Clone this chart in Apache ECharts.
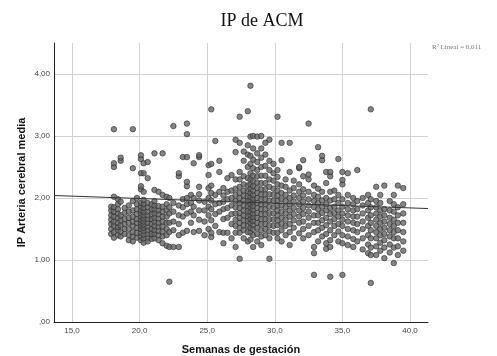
<!DOCTYPE html>
<html>
<head>
<meta charset="utf-8">
<script src="https://cdn.jsdelivr.net/npm/echarts@6/dist/echarts.min.js"></script>
<style>
  html, body { margin: 0; padding: 0; background: #fff; }
  #chart { width: 497px; height: 356px; }
</style>
</head>
<body>
<div id="chart"></div>
<script>
// semanas de gestación (columnas) y valores de IP
const semanasColumna = [
  17.9, 18.1, 18.4, 18.6, 18.9,
  19.2, 19.5, 19.8,
  20.1, 20.3, 20.6, 20.9,
  21.1, 21.4, 21.7, 22.0,
  22.2, 22.5, 22.9,
  23.2, 23.5, 23.8,
  24.0, 24.4, 24.8,
  25.1, 25.3, 25.6, 25.9,
  26.2, 26.5, 26.8,
  27.1, 27.4, 27.7, 28.0,
  28.2, 28.4, 28.7, 29.0,
  29.3, 29.6, 29.9,
  30.2, 30.5, 30.8,
  31.1, 31.4, 31.8,
  32.1, 32.5, 32.9,
  33.2, 33.5, 33.8,
  34.1, 34.4, 34.7,
  35.0, 35.4, 35.8,
  36.1, 36.5, 36.9,
  37.1, 37.5, 37.8,
  38.1, 38.5, 38.8,
  39.1, 39.5
]

const ipColumna = [
  [1.42, 1.50, 1.58, 1.65, 1.72, 1.80, 1.86],
  [1.36, 1.45, 1.55, 1.62, 1.70, 1.78, 1.85, 2.02, 2.50, 2.56, 3.11],
  [1.40, 1.48, 1.53, 1.60, 1.68, 1.75, 1.82, 1.90, 1.98],
  [1.38, 1.46, 1.56, 1.64, 1.72, 1.94, 2.60, 2.65],
  [1.42, 1.50, 1.58, 1.66, 1.76, 1.84],

  [1.32, 1.40, 1.50, 1.60, 1.68, 1.78, 1.88],
  [1.30, 1.38, 1.45, 1.55, 1.62, 1.70, 1.80, 1.95, 2.48, 3.11],
  [1.36, 1.44, 1.52, 1.60, 1.66, 1.74, 1.82, 1.90, 2.00],

  [1.32, 1.38, 1.44, 1.50, 1.55, 1.60, 1.65, 1.70, 1.75, 1.80, 1.86, 1.92, 2.14, 2.19, 2.40, 2.63, 2.69],
  [1.28, 1.35, 1.41, 1.47, 1.52, 1.57, 1.62, 1.67, 1.72, 1.78, 1.84, 1.90, 1.97, 2.10, 2.40, 2.56],
  [1.30, 1.36, 1.42, 1.48, 1.54, 1.60, 1.66, 1.72, 1.78, 1.85, 1.92, 2.32, 2.58],
  [1.34, 1.42, 1.50, 1.58, 1.66, 1.74, 1.82, 1.90],

  [1.35, 1.42, 1.48, 1.55, 1.62, 1.68, 1.75, 1.82, 1.88, 1.95, 2.13, 2.72],
  [1.32, 1.40, 1.47, 1.54, 1.60, 1.67, 1.74, 1.80, 1.87, 2.10],
  [1.27, 1.38, 1.46, 1.54, 1.62, 1.70, 1.78, 1.86, 2.05, 2.72],
  [1.23, 1.40, 1.50, 1.60, 1.70, 1.80, 1.90, 2.02],

  [0.65, 1.21, 1.45, 1.60, 1.75, 1.85, 2.00],
  [1.21, 1.48, 1.62, 1.78, 1.92, 3.16],
  [1.21, 1.40, 1.58, 1.72, 1.88, 2.35, 2.40],

  [1.44, 1.70, 1.85, 1.98, 2.66],
  [1.47, 1.75, 1.90, 2.00, 2.19, 2.26, 2.66, 3.03, 3.20],
  [1.60, 1.78, 1.92, 2.05],

  [1.45, 1.72, 1.86, 2.00, 2.56],
  [1.47, 1.65, 1.80, 1.96, 2.06, 2.18, 2.66, 2.69],
  [1.40, 1.62, 1.80, 1.94],

  [1.50, 1.72, 1.86, 2.00, 2.16, 2.37, 2.53],
  [1.37, 1.44, 1.64, 1.82, 1.96, 2.08, 2.20, 2.55, 3.43],
  [1.55, 1.74, 1.90, 2.05, 2.92],
  [1.45, 1.78, 1.92, 2.10, 2.42, 2.60],

  [1.27, 1.44, 1.66, 1.82, 1.94, 2.04, 2.16],
  [1.44, 1.68, 1.84, 1.98, 2.10, 2.32],
  [1.35, 1.58, 1.74, 1.88, 2.00, 2.12, 2.37],

  [1.21, 1.44, 1.55, 1.65, 1.75, 1.85, 1.95, 2.05, 2.15, 2.30, 2.74, 2.94],
  [1.02, 1.44, 1.52, 1.60, 1.68, 1.76, 1.84, 1.92, 2.00, 2.08, 2.18, 2.30, 2.42, 2.89, 3.31],
  [1.35, 1.48, 1.56, 1.64, 1.72, 1.80, 1.88, 1.96, 2.04, 2.12, 2.22, 2.35, 2.60, 2.75],
  [1.30, 1.45, 1.55, 1.63, 1.71, 1.79, 1.87, 1.95, 2.03, 2.11, 2.20, 2.32, 2.50, 2.70, 2.85, 3.40],

  [1.33, 1.44, 1.52, 1.60, 1.66, 1.72, 1.78, 1.84, 1.90, 1.96, 2.02, 2.08, 2.15, 2.22, 2.30, 2.40, 2.55, 2.68, 2.99, 3.81],
  [1.21, 1.40, 1.50, 1.57, 1.63, 1.69, 1.75, 1.81, 1.87, 1.93, 1.99, 2.05, 2.12, 2.19, 2.27, 2.36, 2.48, 2.62, 2.80, 3.00],
  [1.30, 1.42, 1.52, 1.60, 1.68, 1.76, 1.84, 1.92, 2.00, 2.08, 2.16, 2.25, 2.35, 2.45, 2.58, 2.72, 2.99],
  [1.24, 1.38, 1.48, 1.58, 1.66, 1.74, 1.82, 1.90, 1.98, 2.06, 2.14, 2.24, 2.36, 2.50, 2.65, 2.80, 3.00],

  [1.40, 1.50, 1.58, 1.66, 1.74, 1.82, 1.90, 1.98, 2.06, 2.14, 2.24, 2.36, 2.52, 2.70, 2.89],
  [1.02, 1.35, 1.46, 1.56, 1.66, 1.76, 1.86, 1.96, 2.06, 2.18, 2.30, 2.45, 2.60, 2.94],
  [1.44, 1.55, 1.65, 1.75, 1.85, 1.95, 2.05, 2.15, 2.28, 2.40, 2.55],

  [1.35, 1.44, 1.56, 1.64, 1.72, 1.80, 1.88, 1.96, 2.04, 2.12, 2.22, 2.34, 2.45, 3.31],
  [1.30, 1.48, 1.58, 1.68, 1.78, 1.88, 1.98, 2.08, 2.20, 2.61, 2.89],
  [1.40, 1.55, 1.65, 1.75, 1.85, 1.95, 2.05, 2.18, 2.30],

  [1.24, 1.45, 1.58, 1.70, 1.80, 1.90, 2.00, 2.12, 2.42, 2.89],
  [1.35, 1.52, 1.64, 1.74, 1.84, 1.94, 2.04, 2.16, 2.28],
  [1.43, 1.60, 1.70, 1.80, 1.90, 2.00, 2.10, 2.22, 2.48, 2.50],

  [1.35, 1.50, 1.62, 1.74, 1.84, 1.94, 2.04, 2.14, 2.35, 2.61],
  [1.40, 1.55, 1.68, 1.78, 1.88, 1.98, 2.10, 2.30, 2.38, 3.20],
  [0.76, 1.11, 1.21, 1.45, 1.60, 1.72, 1.85, 1.95, 2.05, 2.20],

  [1.30, 1.48, 1.60, 1.72, 1.82, 1.92, 2.02, 2.15, 2.82],
  [1.38, 1.52, 1.64, 1.76, 1.86, 1.96, 2.10, 2.61, 2.68],
  [1.18, 1.27, 1.42, 1.56, 1.68, 1.80, 1.90, 2.00, 2.24, 2.42],

  [0.73, 1.21, 1.32, 1.48, 1.62, 1.74, 1.84, 1.96, 2.10, 2.35, 2.42],
  [1.40, 1.55, 1.66, 1.76, 1.86, 1.98, 2.12],
  [1.30, 1.46, 1.58, 1.70, 1.80, 1.92, 2.05, 2.63],

  [0.76, 1.27, 1.40, 1.55, 1.65, 1.75, 1.86, 1.98, 2.22, 2.29, 2.42],
  [1.24, 1.38, 1.50, 1.62, 1.72, 1.82, 1.92, 2.05, 2.40],
  [1.21, 1.34, 1.48, 1.60, 1.70, 1.80, 1.90, 2.00],

  [1.30, 1.45, 1.58, 1.70, 1.82, 1.95, 2.45],
  [1.17, 1.35, 1.50, 1.62, 1.75, 1.88, 2.00],
  [1.11, 1.25, 1.40, 1.55, 1.68, 1.80, 1.92, 2.05],

  [0.63, 1.08, 1.20, 1.35, 1.48, 1.60, 1.72, 1.85, 1.98, 3.43],
  [1.08, 1.22, 1.35, 1.45, 1.55, 1.65, 1.75, 1.85, 1.95, 2.18],
  [1.15, 1.28, 1.40, 1.50, 1.60, 1.70, 1.80, 1.92, 2.05],

  [1.03, 1.20, 1.32, 1.42, 1.52, 1.62, 1.72, 1.82, 2.20],
  [1.12, 1.25, 1.38, 1.48, 1.58, 1.68, 1.80, 1.95],
  [0.95, 1.20, 1.35, 1.45, 1.55, 1.65, 1.78, 1.90, 2.05],

  [1.08, 1.22, 1.35, 1.48, 1.60, 1.72, 1.85, 2.20],
  [1.15, 1.30, 1.45, 1.60, 1.75, 1.90, 2.16]
]

const ticksX = [15, 20, 25, 30, 35, 40]
const ticksY = [0, 1, 2, 3, 4]

// recta de ajuste lineal (R² = 0,011)
const ajusteIntercepto = 2.144
const ajustePendiente = -0.0076

const xMin = 13.67
const xMax = 41.33

const puntos = []
semanasColumna.forEach((s, i) => {
  ipColumna[i].forEach((v) => puntos.push([s, v]))
})

const lineaAjuste = [xMin, xMax].map((x) => [x, ajusteIntercepto + ajustePendiente * x])

const chart = echarts.init(document.getElementById('chart'), null, { renderer: 'canvas' })

const option = {
  backgroundColor: '#ffffff',
  animation: false,
  grid: { left: 54, right: 69, top: 43, bottom: 34, outerBoundsMode: 'none' },
  graphic: [
    {
      type: 'text',
      x: 262,
      y: 21,
      style: {
        text: 'IP de ACM',
        font: '18px "Liberation Serif", "Times New Roman", serif',
        fill: '#111',
        textAlign: 'center',
        textVerticalAlign: 'middle',
      },
    },
    {
      type: 'text',
      x: 432,
      y: 47,
      style: {
        text: 'R² Lineal = 0,011',
        font: '7px "Liberation Serif", serif',
        fill: '#777',
        textAlign: 'left',
        textVerticalAlign: 'middle',
      },
    },
  ],
  xAxis: {
    type: 'value',
    min: xMin,
    max: xMax,
    name: 'Semanas de gestación',
    nameLocation: 'middle',
    nameGap: 22,
    nameMoveOverlap: false,
    nameTextStyle: {
      fontFamily: 'Liberation Sans, Arial, sans-serif',
      fontWeight: 'bold',
      fontSize: 11,
      color: '#111',
    },
    axisLine: { show: true, lineStyle: { color: '#222', width: 1 } },
    axisTick: { show: false, customValues: ticksX },
    axisLabel: {
      customValues: ticksX,
      margin: 5,
      fontFamily: 'Liberation Sans, Arial, sans-serif',
      fontSize: 8,
      color: '#444',
      formatter: (v) => v.toFixed(1).replace('.', ','),
    },
    splitLine: { show: true, lineStyle: { color: '#d2d2d2', width: 1 } },
  },
  yAxis: {
    type: 'value',
    min: 0,
    max: 4.5,
    name: 'IP Arteria cerebral media',
    nameLocation: 'middle',
    nameGap: 27,
    nameMoveOverlap: false,
    nameTextStyle: {
      fontFamily: 'Liberation Sans, Arial, sans-serif',
      fontWeight: 'bold',
      fontSize: 11,
      color: '#111',
    },
    axisLine: { show: true, lineStyle: { color: '#222', width: 1 } },
    axisTick: { show: false, customValues: ticksY },
    axisLabel: {
      customValues: ticksY,
      margin: 4,
      fontFamily: 'Liberation Sans, Arial, sans-serif',
      fontSize: 8,
      color: '#444',
      formatter: (v) => (v === 0 ? ',00' : v.toFixed(2).replace('.', ',')),
    },
    splitLine: { show: true, lineStyle: { color: '#d2d2d2', width: 1 } },
  },
  series: [
    {
      type: 'scatter',
      data: puntos,
      symbol: 'circle',
      symbolSize: 5.5,
      itemStyle: { color: '#666666', borderColor: '#2e2e2e', borderWidth: 0.8 },
      z: 2,
    },
    {
      type: 'line',
      data: lineaAjuste,
      symbol: 'none',
      lineStyle: { color: '#333', width: 1 },
      z: 3,
    },
  ],
}

chart.setOption(option)
</script>
</body>
</html>
